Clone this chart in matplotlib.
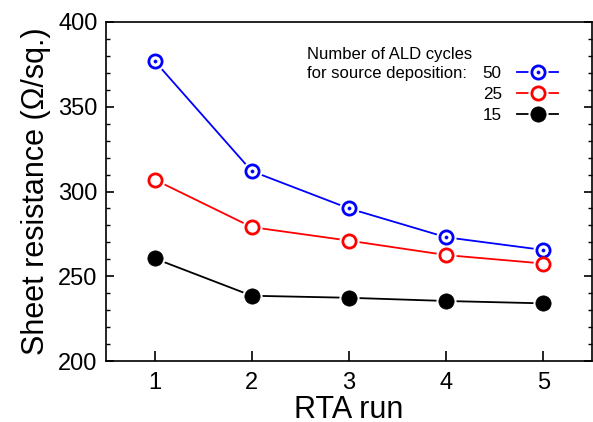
import matplotlib
matplotlib.use("Agg")
import matplotlib.pyplot as plt
from matplotlib.lines import Line2D
from matplotlib.ticker import MultipleLocator

plt.rcParams['font.family'] = ['Liberation Sans', 'DejaVu Sans']

runs = [1, 2, 3, 4, 5]
r50 = [377, 312, 290, 273, 265.5]
r25 = [307, 279, 271, 262.5, 257.5]
r15 = [260.5, 238.5, 237.3, 235.4, 234]
series_labels = ["50", "25", "15"]
legend_title = "Number of ALD cycles\nfor source deposition:"

fig = plt.figure(figsize=(5.93, 4.22), dpi=100)
ax = fig.add_axes([106/593, 1-361/422, 486/593, 339/422])

ms = 9.5
mew = 2.0
lw = 1.3
halo = dict(marker='o', ls='none', ms=ms+4, mfc='white', mec='white', zorder=3)

# 50 cycles (blue, open circle with dot)
ax.plot(runs, r50, color='#0000ff', lw=lw, zorder=2)
ax.plot(runs, r50, **halo)
ax.plot(runs, r50, marker='o', ls='none', ms=ms, mfc='white', mec='#0000ff', mew=mew, zorder=4)
ax.plot(runs, r50, marker='o', ls='none', ms=2.2, mfc='#0000ff', mec='#0000ff', mew=0.5, zorder=5)

# 25 cycles (red open circle)
ax.plot(runs, r25, color='#ff0000', lw=lw, zorder=2)
ax.plot(runs, r25, **halo)
ax.plot(runs, r25, marker='o', ls='none', ms=ms, mfc='white', mec='#ff0000', mew=mew, zorder=4)

# 15 cycles (black filled)
ax.plot(runs, r15, color='black', lw=lw, zorder=2)
ax.plot(runs, r15, **halo)
ax.plot(runs, r15, marker='o', ls='none', ms=ms+1.5, mfc='black', mec='black', mew=0.5, zorder=4)

ax.set_xlim(0.5, 5.5)
ax.set_ylim(200, 400)
ax.set_xticks(runs)
ax.yaxis.set_major_locator(MultipleLocator(50))
ax.yaxis.set_minor_locator(MultipleLocator(10))
ax.tick_params(axis='both', which='major', direction='in', labelsize=17, length=6, width=1.2, pad=6)
ax.tick_params(axis='y', which='minor', direction='in', length=3, width=1.0)
ax.tick_params(axis='y', which='both', right=True)
ax.tick_params(axis='x', which='major', length=7, top=False, pad=8)
for s in ax.spines.values():
    s.set_linewidth(1.2)

ax.set_xlabel("RTA run", fontsize=22, labelpad=1)
ax.set_ylabel("Sheet resistance (\u03a9/sq.)", fontsize=22, labelpad=5)

# Legend
h50 = (Line2D([], [], color='#0000ff', lw=lw),
       Line2D([], [], marker='o', ls='none', ms=ms+4, mfc='white', mec='white'),
       Line2D([], [], marker='o', ls='none', ms=ms, mfc='white', mec='#0000ff', mew=mew),
       Line2D([], [], marker='o', ls='none', ms=2.2, mfc='#0000ff', mec='#0000ff', mew=0.5))
h25 = (Line2D([], [], color='#ff0000', lw=lw),
       Line2D([], [], marker='o', ls='none', ms=ms+4, mfc='white', mec='white'),
       Line2D([], [], marker='o', ls='none', ms=ms, mfc='white', mec='#ff0000', mew=mew))
h15 = (Line2D([], [], color='black', lw=lw),
       Line2D([], [], marker='o', ls='none', ms=ms+4, mfc='white', mec='white'),
       Line2D([], [], marker='o', ls='none', ms=ms+1.5, mfc='black', mec='black', mew=0.5))
leg = ax.legend([h50, h25, h15], series_labels, loc='upper right',
                bbox_to_anchor=((558-106)/486, (361-66)/339),
                frameon=False, markerfirst=False, fontsize=12.3,
                handlelength=2.4, handletextpad=0.9, labelspacing=0.36,
                borderpad=0, borderaxespad=0)

ax.text((307-106)/486, (361-47)/339, legend_title, transform=ax.transAxes,
        fontsize=12, va='top', ha='left', linespacing=1.3)

fig.savefig("out.png", dpi=100)
